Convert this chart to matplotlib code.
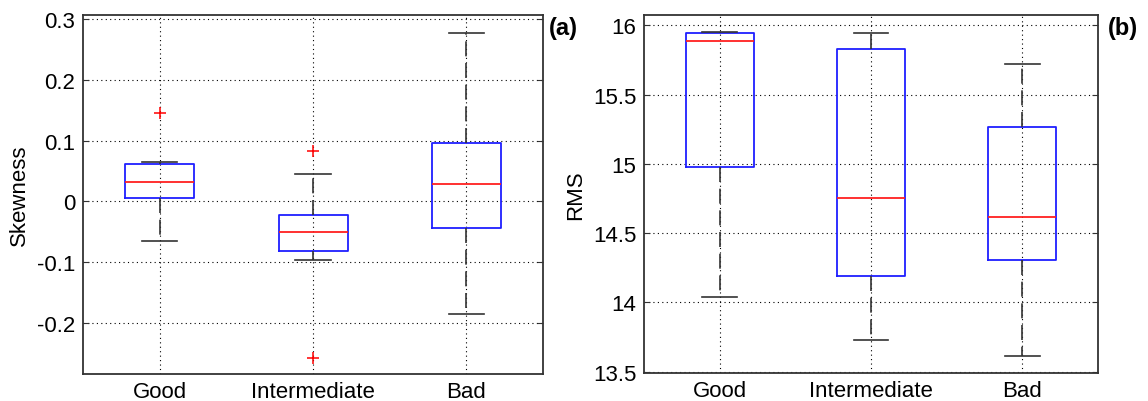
import matplotlib.pyplot as plt
from matplotlib.ticker import FuncFormatter

# 数据：箱线图统计值
groups = ["Good", "Intermediate", "Bad"]

skew_whislo = [-0.065, -0.097, -0.185]
skew_q1 = [0.006, -0.081, -0.044]
skew_med = [0.032, -0.050, 0.029]
skew_q3 = [0.061, -0.023, 0.097]
skew_whishi = [0.065, 0.046, 0.278]
skew_fliers = [[0.145], [0.083, -0.258], []]

rms_whislo = [14.035, 13.731, 13.609]
rms_q1 = [14.977, 14.189, 14.305]
rms_med = [15.884, 14.753, 14.613]
rms_q3 = [15.945, 15.827, 15.266]
rms_whishi = [15.952, 15.945, 15.718]
rms_fliers = [[], [], []]

plt.rcParams['font.family'] = ['Liberation Sans', 'DejaVu Sans']


def make_stats(lo, q1, med, q3, hi, fl):
    stats = []
    for i in range(len(groups)):
        stats.append(dict(label=groups[i], whislo=lo[i], q1=q1[i], med=med[i],
                          q3=q3[i], whishi=hi[i], fliers=fl[i]))
    return stats


def draw_box(ax, stats, ylabel, yticks, ylim):
    ax.bxp(stats, widths=0.45, showfliers=True,
           boxprops=dict(color='#1f1fff', linewidth=1.3),
           medianprops=dict(color='#ff2020', linewidth=1.3),
           whiskerprops=dict(color='#333333', linewidth=1.2, linestyle=(0, (9, 4))),
           capprops=dict(color='#333333', linewidth=1.2),
           capwidths=0.23,
           flierprops=dict(marker='+', markeredgecolor='red', markersize=9,
                           markeredgewidth=1.1, linestyle='none'))
    ax.set_xlim(0.5, 3.5)
    ax.set_ylim(*ylim)
    ax.set_yticks(yticks)
    ax.yaxis.set_major_formatter(FuncFormatter(lambda v, p: f"{v:g}".replace("\u2212", "-")))
    ax.grid(True, color='black', linestyle=(0, (1, 3)), linewidth=0.8)
    ax.set_axisbelow(True)
    ax.set_ylabel(ylabel, fontsize=16, labelpad=5)
    ax.tick_params(axis='both', labelsize=16, direction='in', length=4,
                   top=True, right=True, color='#333333', pad=5.5)
    ax.tick_params(axis='x', length=0, pad=5)
    for s in ax.spines.values():
        s.set_color('#333333')
        s.set_linewidth(1.3)


fig = plt.figure(figsize=(11.48, 4.02), dpi=100)
ax1 = fig.add_axes([0.0723, 0.0672, 0.4007, 0.893])
ax2 = fig.add_axes([0.561, 0.0697, 0.3955, 0.8905])

draw_box(ax1, make_stats(skew_whislo, skew_q1, skew_med, skew_q3, skew_whishi, skew_fliers),
         "Skewness", [-0.2, -0.1, 0, 0.1, 0.2, 0.3], (-0.284, 0.307))
draw_box(ax2, make_stats(rms_whislo, rms_q1, rms_med, rms_q3, rms_whishi, rms_fliers),
         "RMS", [13.5, 14, 14.5, 15, 15.5, 16], (13.49, 16.074))

fig.text(549 / 1148, 1 - 29 / 402, "(a)", fontsize=17, fontweight='bold', va='center', ha='left')
fig.text(1108 / 1148, 1 - 29 / 402, "(b)", fontsize=17, fontweight='bold', va='center', ha='left')

fig.savefig("out.png", dpi=100)
